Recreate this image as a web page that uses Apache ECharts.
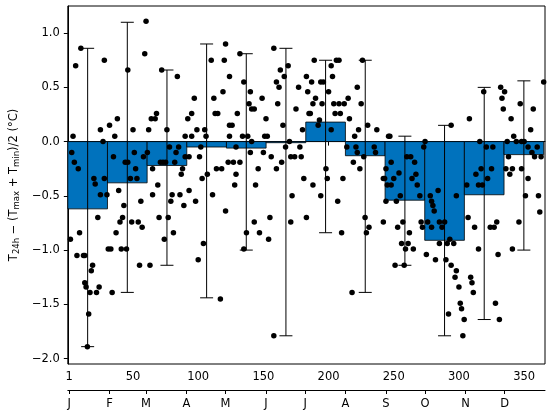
<!DOCTYPE html>
<html>
<head>
<meta charset="utf-8">
<script src="https://cdn.jsdelivr.net/npm/echarts@6.0.0/dist/echarts.min.js"></script>
<style>
  html, body { margin: 0; padding: 0; background: #fff; }
  #chart { width: 550px; height: 417px; }
</style>
</head>
<body>
<div id="chart"></div>
<script>
// month axis
var monthLabels = ['J', 'F', 'M', 'A', 'M', 'J', 'J', 'A', 'S', 'O', 'N', 'D'];
var monthStarts = [1, 32, 60, 91, 121, 152, 182, 213, 244, 274, 305, 335];
var dayTicks = [1, 50, 100, 150, 200, 250, 300, 350];
var valueTicks = [-2.0, -1.5, -1.0, -0.5, 0.0, 0.5, 1.0];

// monthly mean and min/max (whiskers)
var monthMean = [-0.62, -0.38, -0.22, -0.05, -0.06, -0.01, 0.18, -0.13, -0.54, -0.91, -0.49, -0.12];
var monthMax = [0.86, 1.10, 0.66, 0.90, 0.81, 0.86, 0.75, 0.75, 0.05, 0.15, 0.50, 0.56];
var monthMin = [-1.89, -1.39, -1.14, -1.44, -1.00, -1.79, -0.84, -1.39, -1.14, -1.79, -1.64, -1.00];

// daily values [day of year, difference]
var dailyPoints = [
    [4, 0.05], [6, 0.70], [10, 0.86], [28, 0.75], [25, 0.11], [32, 0.15], [38, 0.21], [36, 0.05],
    [27, 0.00], [3, -0.10], [5, -0.19], [8, -0.25], [20, -0.34], [28, -0.34], [35, -0.14], [44, -0.19],
    [46, -0.19], [51, -0.10], [52, -0.25], [58, -0.14], [60, 1.11], [59, 0.81], [46, 0.66], [50, 0.11],
    [62, 0.11], [64, 0.21], [67, 0.21], [68, 0.26], [61, -0.10], [65, -0.25], [71, -0.19], [73, -0.19],
    [75, -0.19], [72, 0.66], [84, 0.60], [76, 0.11], [78, -0.05], [85, -0.05], [83, -0.10], [82, -0.19],
    [90, 0.05], [92, 0.21], [95, 0.26], [97, 0.40], [95, 0.05], [99, 0.11], [90, -0.14], [93, -0.14],
    [88, -0.25], [87, -0.30], [101, -0.14], [102, -0.05], [105, 0.11], [106, 0.05], [107, -0.30], [103, -0.34],
    [110, 0.75], [112, 0.40], [113, 0.26], [115, 0.26], [119, 0.46], [120, 0.75], [121, 0.90], [124, 0.60],
    [124, 0.15], [124, 0.05], [114, -0.25], [118, -0.25], [123, -0.19],
    [21, -0.39], [25, -0.49], [30, -0.49], [23, -0.70], [2, -0.90], [9, -0.84], [7, -1.05], [12, -1.05],
    [13, -1.05], [13, -1.30], [14, -1.34], [17, -1.39], [18, -1.19], [19, -1.14], [22, -1.39], [24, -1.34],
    [16, -1.59], [15, -1.89], [34, -1.39], [31, -0.99], [33, -0.99], [37, -0.84], [39, -0.45], [40, -0.74],
    [42, -0.70], [43, -0.59], [41, -0.99], [45, -0.99], [48, -0.34], [53, -0.34], [49, -0.74], [54, -0.74],
    [56, -0.55], [57, -0.79], [55, -1.14], [63, -1.14], [65, -0.49], [69, -0.40], [70, -0.70], [74, -0.90],
    [77, -0.70], [79, -0.55], [80, -0.49], [81, -0.84], [86, -0.49], [89, -0.59], [93, -0.45], [98, -0.55],
    [100, -1.09], [104, -0.94], [111, -0.49], [117, -1.45], [121, -0.64],
    [126, 0.15], [130, 0.26], [129, -0.05], [127, -0.19], [132, -0.19], [129, -0.30], [132, 0.81], [135, 0.55],
    [134, 0.05], [138, 0.05], [140, 0.46], [139, 0.35], [141, 0.30], [143, 0.30], [141, 0.00], [140, -0.10],
    [149, 0.40], [146, -0.25], [151, 0.05], [153, 0.05], [152, 0.21], [150, -0.10], [158, 0.86], [160, 0.55],
    [163, 0.66], [169, 0.70], [166, 0.60], [162, 0.50], [161, 0.35], [165, 0.15], [167, -0.05], [164, -0.19],
    [160, -0.25], [156, -0.14], [170, 0.00], [171, -0.14], [174, -0.14], [175, 0.30], [177, 0.50], [178, -0.05],
    [179, -0.14], [180, 0.11], [181, -0.34], [183, 0.60], [184, 0.46], [185, 0.26], [186, 0.26], [187, 0.55],
    [189, 0.75], [190, 0.40], [188, 0.35], [192, 0.15], [194, 0.55], [196, 0.55], [195, 0.35], [193, 0.20],
    [202, 0.11], [198, -0.25], [200, 0.46], [202, 0.70], [203, 0.60], [206, 0.75], [208, 0.75], [204, 0.35],
    [205, 0.26], [209, 0.26], [208, 0.35], [211, -0.34], [212, 0.35], [215, 0.40], [216, 0.21], [220, 0.05],
    [222, 0.50], [223, 0.11], [225, 0.35], [219, -0.19], [222, -0.10], [224, -0.25], [214, -0.05], [221, -0.05],
    [226, 0.75], [230, 0.15], [237, 0.11], [235, -0.05], [236, -0.10], [227, -0.14], [244, -0.25], [246, 0.05],
    [243, -0.34],
    [128, -0.40], [144, -0.40], [137, -0.84], [135, -0.99], [143, -0.74], [147, -0.84], [155, -0.70], [154, -0.90],
    [158, -1.79], [172, -0.50], [188, -0.40], [194, -0.50], [171, -0.74], [183, -0.70], [199, -0.34], [207, -0.55],
    [210, -0.84], [218, -1.39], [228, -0.70], [231, -0.79], [229, -0.84], [242, -0.74], [245, -0.40], [244, -0.55],
    [247, 0.05], [248, -0.19], [250, -0.34], [254, -0.29], [260, -0.14], [263, -0.14], [266, -0.19], [267, -0.30],
    [273, -0.05], [274, 0.00], [294, 0.15], [308, 0.21], [319, 0.46], [316, 0.00], [321, -0.05], [326, -0.05],
    [313, -0.30], [317, -0.25], [325, -0.25], [322, -0.34], [332, 0.50], [335, 0.46], [333, 0.40], [334, 0.30],
    [340, 0.21], [347, 0.35], [357, 0.30], [355, 0.11], [342, 0.05], [344, 0.00], [348, 0.00], [350, 0.00],
    [337, 0.00], [338, -0.14], [353, -0.05], [360, -0.05], [356, -0.10], [358, -0.14], [363, -0.14], [365, 0.55],
    [336, -0.25], [341, -0.25], [348, -0.25], [339, -0.30], [353, -0.34],
    [242, -0.34], [248, -0.40], [252, -0.55], [255, -0.50], [264, -0.34], [268, -0.40], [270, -0.50], [253, -0.79],
    [257, -0.74], [262, -0.84], [256, -0.94], [261, -0.94], [259, -0.99], [265, -0.99], [251, -1.14], [258, -1.14],
    [271, -0.74], [272, -0.79], [275, -1.04], [278, -0.50], [279, -0.55], [280, -0.59], [281, -0.64], [284, -0.45],
    [276, -0.74], [279, -0.79], [285, -0.74], [287, -0.79], [289, -0.74], [282, -1.09], [285, -0.94], [291, -0.94],
    [296, -0.94], [293, -0.90], [290, -1.09], [294, -1.14], [298, -1.19], [297, -1.25], [300, -1.34], [301, -1.49],
    [302, -1.54], [292, -1.59], [304, -1.64], [303, -1.79], [298, -0.50], [307, -0.70], [306, -0.40], [315, -0.40],
    [318, -0.40], [312, -0.79], [315, -0.99], [309, -1.25], [310, -1.30], [311, -1.39], [328, -1.49], [331, -1.64],
    [324, -0.79], [327, -0.79], [329, -0.74], [330, -1.04], [346, -0.74], [341, -0.99], [351, -0.50], [361, -0.50],
    [362, -0.65]
];

var FONT = 'DejaVu Sans';
var binWidth = 365 / 12;

function fmtNum(v) {
    var s = Math.abs(v).toFixed(1);
    return (v < -1e-9 ? '\u2212' : '') + s;
}

var chart = echarts.init(document.getElementById('chart'));

var barData = monthMean.map(function (v, i) { return [binWidth * (i + 0.5), v]; });
var errData = monthMean.map(function (v, i) { return [binWidth * (i + 0.5), monthMin[i], monthMax[i]]; });

var option = {
    animation: false,
    backgroundColor: '#fff',
    grid: {
        left: 66, right: 5, top: 6, bottom: 53,
        show: true, borderColor: '#000', borderWidth: 1
    },
    xAxis: [
        {
            type: 'value', min: 0, max: 366, position: 'bottom',
            axisLine: { lineStyle: { color: '#000', width: 1 } },
            axisTick: { show: true, length: 4, lineStyle: { color: '#000' }, customValues: dayTicks },
            axisLabel: { color: '#000', fontFamily: FONT, fontSize: 11.5, margin: 7, customValues: dayTicks },
            splitLine: { show: false }
        },
        {
            type: 'value', min: 0, max: 366, position: 'bottom', offset: 26,
            axisLine: { show: true, onZero: false, lineStyle: { color: '#000', width: 1 } },
            axisTick: { show: true, length: 4, lineStyle: { color: '#000' }, customValues: monthStarts },
            axisLabel: {
                color: '#000', fontFamily: FONT, fontSize: 11.5, margin: 8, customValues: monthStarts,
                formatter: function (v) {
                    var i = monthStarts.indexOf(Math.round(v));
                    return i >= 0 ? monthLabels[i] : '';
                }
            },
            splitLine: { show: false }
        }
    ],
    yAxis: {
        type: 'value', min: -2.05, max: 1.25,
        axisLine: { show: true, onZero: false, lineStyle: { color: '#000', width: 1 } },
        axisTick: { show: true, length: 4, lineStyle: { color: '#000' }, customValues: valueTicks },
        axisLabel: {
            color: '#000', fontFamily: FONT, fontSize: 11.5, margin: 8, customValues: valueTicks,
            formatter: fmtNum
        },
        splitLine: { show: false },
        name: '{m|T}{s|24h}{m| \u2212 (T}{s|max}{m| + T}{s|min}{m|)/2 (\u00B0C)}',
        nameLocation: 'middle',
        nameRotate: 90,
        nameGap: 44,
        nameTextStyle: {
            color: '#000', fontFamily: FONT, fontSize: 11.5,
            rich: {
                m: { fontFamily: FONT, fontSize: 11.5, lineHeight: 14, color: '#000' },
                s: { fontFamily: FONT, fontSize: 8.5, lineHeight: 6, verticalAlign: 'bottom', color: '#000' }
            }
        }
    },
    series: [
        {
            // monthly mean bars
            type: 'custom',
            xAxisIndex: 0,
            z: 2,
            data: barData,
            renderItem: function (params, api) {
                var c = api.value(0), v = api.value(1);
                var p0 = api.coord([c - binWidth / 2, v]);
                var p1 = api.coord([c + binWidth / 2, 0]);
                return {
                    type: 'rect',
                    shape: {
                        x: p0[0], y: Math.min(p0[1], p1[1]),
                        width: p1[0] - p0[0], height: Math.abs(p1[1] - p0[1])
                    },
                    style: { fill: '#0072BD', stroke: '#000', lineWidth: 0.8 }
                };
            }
        },
        {
            // min / max whiskers
            type: 'custom',
            xAxisIndex: 0,
            z: 3,
            data: errData,
            renderItem: function (params, api) {
                var c = api.value(0);
                var lo = api.coord([c, api.value(1)]);
                var hi = api.coord([c, api.value(2)]);
                var cap = 6.5;
                var st = { stroke: '#000', lineWidth: 1 };
                return {
                    type: 'group',
                    children: [
                        { type: 'line', shape: { x1: lo[0], y1: lo[1], x2: hi[0], y2: hi[1] }, style: st },
                        { type: 'line', shape: { x1: lo[0] - cap, y1: lo[1], x2: lo[0] + cap, y2: lo[1] }, style: st },
                        { type: 'line', shape: { x1: hi[0] - cap, y1: hi[1], x2: hi[0] + cap, y2: hi[1] }, style: st }
                    ]
                };
            }
        },
        {
            type: 'scatter',
            xAxisIndex: 0,
            z: 4,
            symbol: 'circle',
            symbolSize: 5.5,
            itemStyle: { color: '#000', opacity: 1 },
            data: dailyPoints
        }
    ]
};

chart.setOption(option);
</script>
</body>
</html>
